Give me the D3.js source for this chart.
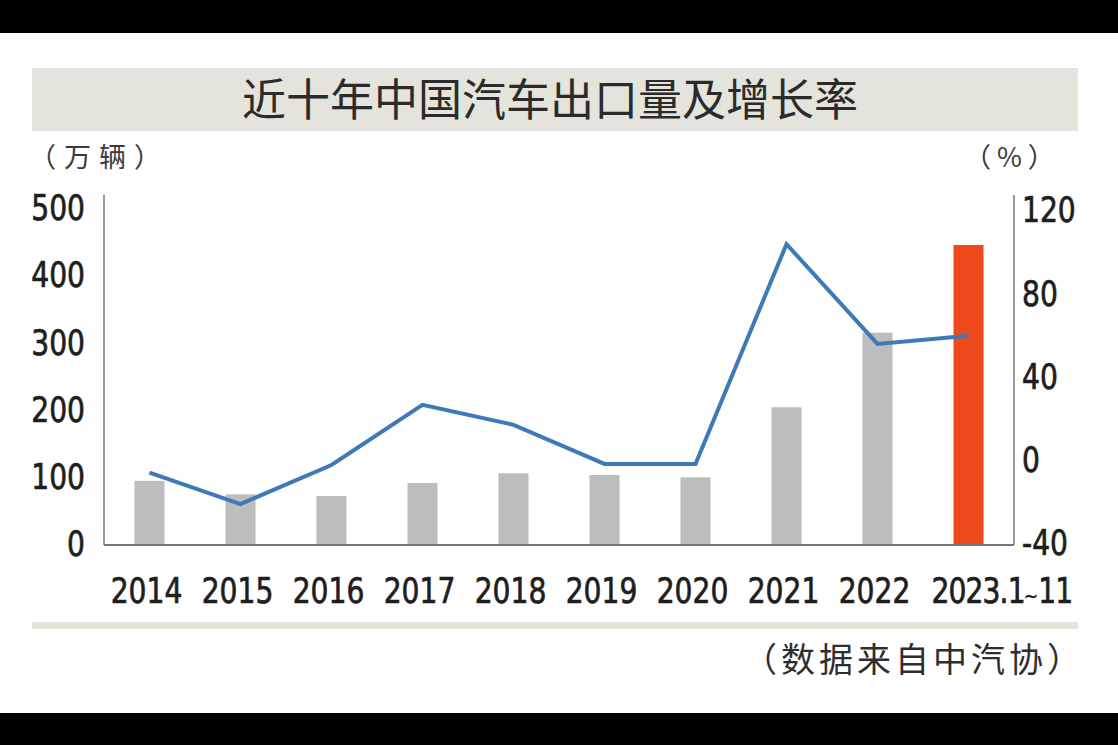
<!DOCTYPE html>
<html>
<head>
<meta charset="utf-8">
<script src="https://cdn.jsdelivr.net/npm/d3@7"></script>
<style>
  html, body { margin: 0; padding: 0; background: #fff; }
  svg { display: block; }
  .num { font-family: "DejaVu Sans Condensed", "DejaVu Sans", sans-serif; fill: #1e1e1e; stroke: #1e1e1e; stroke-width: 0.7px; }
  .cjk { font-family: "Noto Sans CJK SC", sans-serif; }
</style>
</head>
<body>
<svg id="chart" width="1118" height="745"></svg>
<script>
// ---- data ----
const categories = ["2014", "2015", "2016", "2017", "2018", "2019", "2020", "2021", "2022", "2023.1~11"];
const exportVolume = [95.5, 75.4, 72.9, 92.3, 106.7, 104.2, 100.7, 204.9, 316, 446.4]; // 万辆
const growthRate = [-6.8, -21.9, -3.1, 25.8, 16.2, -2.6, -2.6, 103.1, 55.1, 59.1]; // %
const leftTicks = [0, 100, 200, 300, 400, 500];
const rightTicks = [-40, 0, 40, 80, 120];
const titleText = "近十年中国汽车出口量及增长率";
const leftUnit = "（万辆）";
const rightUnit = "（%）";
const sourceText = "（数据来自中汽协）";

const svg = d3.select("#chart");
const W = 1118, H = 745;

// background bands
svg.append("rect").attr("x", 0).attr("y", 0).attr("width", W).attr("height", 33).attr("fill", "#000");
svg.append("rect").attr("x", 0).attr("y", 713).attr("width", W).attr("height", 32).attr("fill", "#000");
svg.append("rect").attr("x", 32).attr("y", 68).attr("width", 1046).attr("height", 63).attr("fill", "#e4e4dc");
svg.append("rect").attr("x", 32).attr("y", 622).attr("width", 1046).attr("height", 7).attr("fill", "#e4e4dc");

svg.append("text").attr("class", "cjk")
  .attr("x", 550).attr("y", 100).attr("dy", "0.36em")
  .attr("text-anchor", "middle").attr("font-size", 44).attr("font-weight", 400)
  .attr("fill", "#2b2b2b").text(titleText);

svg.append("text").attr("class", "cjk")
  .attr("x", 29).attr("y", 157).attr("dy", "0.36em")
  .attr("font-size", 27).attr("font-weight", 400).attr("letter-spacing", 8)
  .attr("fill", "#3a3a3a").text(leftUnit);
svg.append("text").attr("class", "cjk")
  .attr("x", 964).attr("y", 157).attr("dy", "0.36em")
  .attr("font-size", 27).attr("font-weight", 400).attr("letter-spacing", 6)
  .attr("fill", "#3a3a3a").text(rightUnit);

svg.append("text").attr("class", "cjk")
  .attr("x", 743).attr("y", 660).attr("dy", "0.36em")
  .attr("font-size", 34).attr("font-weight", 400).attr("letter-spacing", 4)
  .attr("fill", "#2e2e2e").text(sourceText);

// scales
const plotL = 104, plotR = 1014, plotB = 545, plotT = 195;
const x = d3.scaleBand().domain(categories).range([plotL, plotR]).paddingInner(0.67).paddingOuter(0.335);
const yL = d3.scaleLinear().domain([0, 500]).range([545, 209]);
const yR = d3.scaleLinear().domain([-40, 120]).range([541.7, 209]);

// bars
svg.append("g").selectAll("rect").data(categories).join("rect")
  .attr("x", d => x(d))
  .attr("width", x.bandwidth())
  .attr("y", (d, i) => yL(exportVolume[i]))
  .attr("height", (d, i) => yL(0) - yL(exportVolume[i]))
  .attr("fill", (d, i) => i === categories.length - 1 ? "#ee4a1d" : "#bdbdbd");

// line
const line = d3.line()
  .x((d, i) => x(categories[i]) + x.bandwidth() / 2)
  .y(d => yR(d));
svg.append("path").datum(growthRate)
  .attr("d", line).attr("fill", "none")
  .attr("stroke", "#3d7ab7").attr("stroke-width", 4).attr("stroke-linejoin", "miter");

// axis frame lines
const axisColor = "#777";
svg.append("line").attr("x1", plotL).attr("x2", plotL).attr("y1", plotT).attr("y2", plotB).attr("stroke", axisColor).attr("stroke-width", 1.5);
svg.append("line").attr("x1", plotR).attr("x2", plotR).attr("y1", plotT).attr("y2", plotB).attr("stroke", axisColor).attr("stroke-width", 1.5);
svg.append("line").attr("x1", plotL).attr("x2", plotR).attr("y1", plotB).attr("y2", plotB).attr("stroke", axisColor).attr("stroke-width", 2);

const numSize = 36, sx = 0.87;
// left axis
const gL = svg.append("g").attr("transform", "translate(85,-2.3)")
  .call(d3.axisLeft(yL).tickValues(leftTicks).tickSize(0).tickPadding(0).tickFormat(d => String(d)));
gL.select(".domain").remove();
gL.selectAll("text").attr("class", "num").attr("font-size", numSize).attr("dy", "0.36em")
  .attr("x", 0).attr("transform", `scale(${sx},1)`);

// right axis
const gR = svg.append("g").attr("transform", "translate(1022,0)")
  .call(d3.axisRight(yR).tickValues(rightTicks).tickSize(0).tickPadding(0).tickFormat(d => String(d)));
gR.select(".domain").remove();
gR.selectAll("text").attr("class", "num").attr("font-size", numSize).attr("dy", "0.36em")
  .attr("x", 0).attr("transform", `scale(${sx},1)`);

// bottom axis
const gB = svg.append("g").attr("transform", "translate(0,603)")
  .call(d3.axisBottom(x).tickSize(0).tickPadding(0));
gB.select(".domain").remove();
gB.selectAll("text").attr("class", "num").attr("font-size", numSize).attr("dy", 0)
  .attr("y", 0)
  .attr("text-anchor", "start")
  .attr("transform", `scale(${sx},1)`)
  .each(function(d) {
    const t = d3.select(this);
    if (d.includes("~")) {
      const parts = d.split("~");
      t.text(null);
      t.append("tspan").attr("letter-spacing", -1).text(parts[0]);
      t.append("tspan").attr("font-size", 22).attr("dx", -1).attr("stroke-width", 0.4).text("~");
      t.append("tspan").attr("dx", 0).attr("letter-spacing", -1).text(parts[1]);
    }
    const yw = this.getSubStringLength(0, 4);
    t.attr("x", -yw / 2 - 3 / sx);
  });
</script>
</body>
</html>
